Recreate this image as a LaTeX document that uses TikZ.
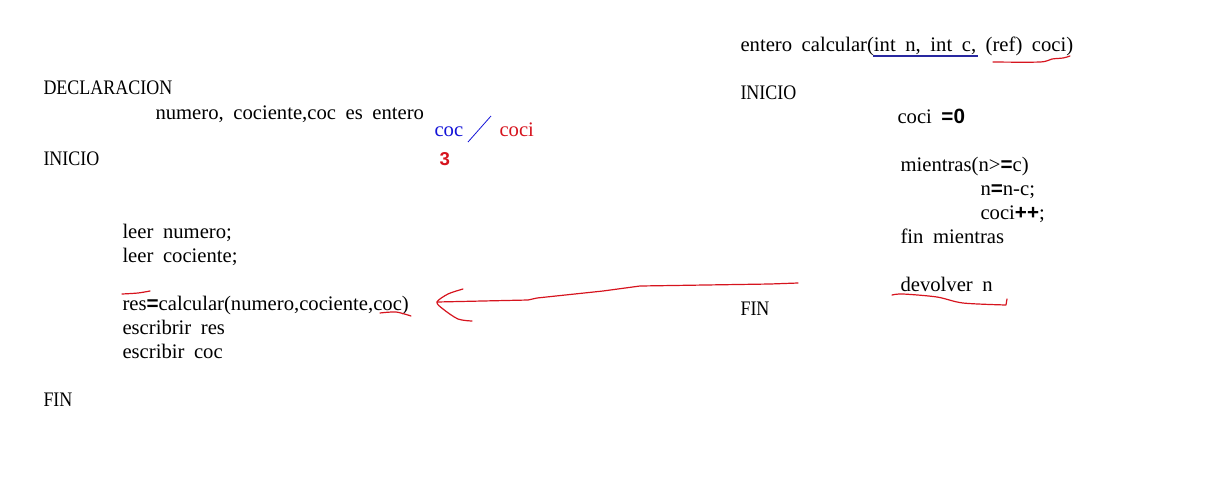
\documentclass[tikz,border=0pt]{standalone}
\usepackage{fontspec}
\setmainfont{Liberation Serif}[WordSpace=1.85]
\setsansfont{Liberation Sans}
\newfontfamily\capsfont{Liberation Serif}[FakeStretch=0.87]
\newcommand{\sbf}[1]{{\sffamily\bfseries #1}}

\definecolor{penred}{RGB}{214,20,30}
\definecolor{penblue}{RGB}{20,20,215}
\definecolor{inkblue}{RGB}{40,40,160}

\tikzset{every picture/.style={line width=0.75pt}}
\tikzset{
  code/.style={anchor=base west, inner sep=0pt, font=\fontsize{15.5}{18}\selectfont},
  keyword/.style={code, font=\fontsize{15.5}{18}\capsfont},
  scribble/.style={draw=penred, line width=0.9pt, line cap=round, line join=round}
}

\begin{document}
\begin{tikzpicture}[x=0.75pt,y=0.75pt,yscale=-1,xscale=1]
	\useasboundingbox (0,0) rectangle (1207,476);

	% Text Node
	\node[keyword] (declaracion) at (43,94) {DECLARACION};
	% Text Node
	\node[code] (vars) at (155,119) {numero, cociente,coc es entero};
	% Text Node
	\node[code, text=penblue] (coc) at (434,136) {coc};
	% Text Node
	\node[code, text=penred] (coci) at (499,136) {coci};
	% Text Node
	\node[code, text=penred, font=\fontsize{14}{17}\selectfont] (tres) at (439,165) {\sbf{3}};
	% Text Node
	\node[keyword] (inicioA) at (43,165) {INICIO};
	% Text Node
	\node[code] (leerA) at (122,238) {leer numero;};
	% Text Node
	\node[code] (leerB) at (122,262) {leer cociente;};
	% Text Node
	\node[code] (res) at (122,310) {res\sbf{=}calcular(numero,cociente,coc)};
	% Text Node
	\node[code] (escA) at (122,334) {escribrir res};
	% Text Node
	\node[code] (escB) at (122,358) {escribir coc};
	% Text Node
	\node[keyword] (finA) at (43,406) {FIN};

	% Text Node
	\node[code] (cabecera) at (740,51) {entero calcular(int n, int c, (ref) coci)};
	% Text Node
	\node[keyword] (inicioB) at (740,99) {INICIO};
	% Text Node
	\node[code] (cero) at (897,123) {coci \sbf{=0}};
	% Text Node
	\node[code] (mientras) at (900,171) {mientras(n>\sbf{=}c)};
	% Text Node
	\node[code] (resta) at (980,195) {n\sbf{=}n-c;};
	% Text Node
	\node[code] (incr) at (980,219) {coci\sbf{++};};
	% Text Node
	\node[code] (finmientras) at (900,243) {fin mientras};
	% Text Node
	\node[code] (devolver) at (900,291) {devolver n};
	% Text Node
	\node[keyword] (finB) at (740,315) {FIN};

	%Straight Lines
	\draw [draw=penblue, line width=0.6pt] (468,142) -- (491,116) ;
	%Straight Lines
	\draw [draw=inkblue, line width=1pt] (873,56) -- (978,56) ;
	%Curve Lines
	\draw [scribble] plot [smooth] coordinates {(993,62) (1040,62) (1052,59) (1063,58) (1070,56)} ;
	%Curve Lines
	\draw [scribble] plot [smooth] coordinates {(122,294) (138,293) (150,291)} ;
	%Curve Lines
	\draw [scribble] plot [smooth] coordinates {(380,313) (396,312) (411,316)} ;
	%Curve Lines
	\draw [scribble] plot [smooth] coordinates {(892,295) (903,294) (937,297) (963,303) (1006,305)} -- (1007,299) ;

	% Red arrow
	\coordinate (tailA) at (798,283);
	\coordinate (tipA) at (437,302);
	\draw [scribble] (tailA) -- (770,284) -- (640,286) -- (603,291) -- (537,298) -- (528,300) -- (tipA) ;
	\draw [scribble] plot [smooth] coordinates {(463,289) (448,294) (437,302) (443,309) (458,319) (472,321)} ;

\end{tikzpicture}
\end{document}
